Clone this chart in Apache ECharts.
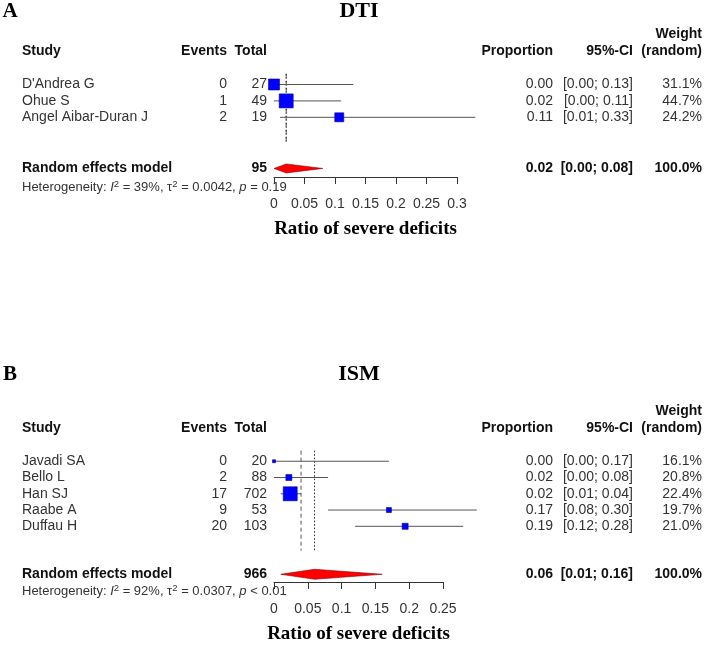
<!DOCTYPE html>
<html>
<head>
  <meta charset="UTF-8">
  <title>Forest plots</title>
  <script src="https://cdn.jsdelivr.net/npm/echarts@6/dist/echarts.min.js"></script>
  <style>
    html, body { margin: 0; padding: 0; background: #fff; }
    #main { width: 708px; height: 645px; }
  </style>
</head>
<body>
<div id="main"></div>
<script type="text/javascript">
  // ---- panel A: DTI ----
  var dtiStudies = ["D'Andrea G", 'Ohue S', 'Angel Aibar-Duran J'];
  var dtiEvents = [0, 1, 2];
  var dtiTotal = [27, 49, 19];
  var dtiProp = [0.00, 0.02, 0.107];
  var dtiLower = [0.00, 0.00, 0.01];
  var dtiUpper = [0.13, 0.11, 0.33];
  var dtiWeight = [31.1, 44.7, 24.2];
  var dtiPooled = [0.02, 0.00, 0.08];   // estimate, lower, upper
  var dtiCommon = 0.02;
  var dtiSum = 95;
  var dtiHet = ['39%', '0.0042', '= 0.19'];
  var dtiTicks = [0, 0.3, 0.05];        // min, max, step

  // ---- panel B: ISM ----
  var ismStudies = ['Javadi SA', 'Bello L', 'Han SJ', 'Raabe A', 'Duffau H'];
  var ismEvents = [0, 2, 17, 9, 20];
  var ismTotal = [20, 88, 702, 53, 103];
  var ismProp = [0.00, 0.022, 0.024, 0.17, 0.194];
  var ismLower = [0.00, 0.00, 0.01, 0.08, 0.12];
  var ismUpper = [0.17, 0.08, 0.04, 0.30, 0.28];
  var ismWeight = [16.1, 20.8, 22.4, 19.7, 21.0];
  var ismPooled = [0.06, 0.01, 0.16];
  var ismCommon = 0.04;
  var ismSum = 966;
  var ismHet = ['92%', '0.0307', '< 0.01'];
  var ismTicks = [0, 0.25, 0.05];

  var SANS = 'Liberation Sans, Arial, sans-serif';
  var SERIF = 'Liberation Serif, Times New Roman, serif';
  var TXT = '#333';

  // column anchors (pixels)
  var col = { study: 22, events: 227, total: 267, prop: 553, ci: 633, weight: 702 };

  var panels = [
    {
      letter: 'A', title: 'DTI', titleY: 11,
      studies: dtiStudies, events: dtiEvents, total: dtiTotal, prop: dtiProp,
      lower: dtiLower, upper: dtiUpper, weight: dtiWeight, pooled: dtiPooled,
      common: dtiCommon, sum: dtiSum, het: dtiHet, ticks: dtiTicks,
      box: [11, 14, 9], axisRight: 457,
      row0: 84.5, rowH: 16.4, axisY: 177, sumRow: 5.12, hetRow: 6.3, diamondH: 9
    },
    {
      letter: 'B', title: 'ISM', titleY: 374,
      studies: ismStudies, events: ismEvents, total: ismTotal, prop: ismProp,
      lower: ismLower, upper: ismUpper, weight: ismWeight, pooled: ismPooled,
      common: ismCommon, sum: ismSum, het: ismHet, ticks: ismTicks,
      box: [3, 6, 14, 5, 6], axisRight: 443,
      row0: 463, rowH: 16.7, axisY: 587, sumRow: 6.95, hetRow: 7.98, diamondH: 10
    }
  ];

  function txt(x, y, s, align, bold, size) {
    return {
      type: 'text', x: x, y: y,
      style: {
        text: s, align: align, verticalAlign: 'middle',
        fontFamily: SANS, fontSize: size || 14,
        fontWeight: bold ? 'bold' : 'normal',
        fill: bold ? '#111' : TXT
      }
    };
  }

  var grids = [], xAxes = [], yAxes = [], series = [], graphics = [];

  panels.forEach(function (p, k) {
    var yMin = -4;
    var top = p.row0 + yMin * p.rowH;
    var yMax = (p.axisY - p.row0) / p.rowH;
    var n = p.studies.length;

    grids.push({ left: 274, top: top, width: p.axisRight - 274, height: p.axisY - top, containLabel: false });
    xAxes.push({
      gridIndex: k, type: 'value', min: p.ticks[0], max: p.ticks[1], interval: p.ticks[2],
      axisLine: { onZero: false, lineStyle: { color: '#333', width: 1 } },
      axisTick: { length: 7, lineStyle: { color: '#333' } },
      axisLabel: { color: TXT, fontSize: 14, fontFamily: SANS, margin: 20 },
      splitLine: { show: false },
      name: 'Ratio of severe deficits', nameLocation: 'middle', nameGap: 43,
      nameTextStyle: { fontFamily: SERIF, fontWeight: 'bold', fontSize: 19, color: '#000' }
    });
    yAxes.push({ gridIndex: k, type: 'value', inverse: true, min: yMin, max: yMax, show: false });

    // headers, reference lines, pooled diamond
    series.push({
      type: 'custom', xAxisIndex: k, yAxisIndex: k, clip: false, silent: true,
      data: [[p.pooled[0], p.sumRow, p.pooled[1], p.pooled[2], p.common]],
      renderItem: function (params, api) {
        var yOf = function (r) { return api.coord([0, r])[1]; };
        var est = api.coord([api.value(0), api.value(1)]);
        var lo = api.coord([api.value(2), api.value(1)]);
        var hi = api.coord([api.value(3), api.value(1)]);
        var cm = api.coord([api.value(4), 0]);
        var y1 = yOf(-0.65), y2 = yOf(n + 0.5), ys = est[1], h = p.diamondH / 2;
        var hetText = '{n|Heterogeneity: }{i|I}{s|2}{n| = ' + p.het[0] + ', \u03c4}{s|2}{n| = ' +
          p.het[1] + ', }{i|p}{n| ' + p.het[2] + '}';
        return {
          type: 'group', children: [
            txt(col.study, yOf(-2.05), 'Study', 'left', true),
            txt(col.events, yOf(-2.05), 'Events', 'right', true),
            txt(col.total, yOf(-2.05), 'Total', 'right', true),
            txt(col.prop, yOf(-2.05), 'Proportion', 'right', true),
            txt(col.ci, yOf(-2.05), '95%-CI', 'right', true),
            txt(col.weight, yOf(-2.05), '(random)', 'right', true),
            txt(col.weight, yOf(-3.1), 'Weight', 'right', true),
            { type: 'line', shape: { x1: cm[0], y1: y1, x2: cm[0], y2: y2 },
              style: { stroke: '#555', lineWidth: 1, lineDash: [4, 3] } },
            { type: 'line', shape: { x1: est[0], y1: y1, x2: est[0], y2: y2 },
              style: { stroke: '#222', lineWidth: 1, lineDash: [1.5, 2] } },
            { type: 'polygon',
              shape: { points: [[lo[0], ys], [est[0], ys - h], [hi[0], ys], [est[0], ys + h]] },
              style: { fill: '#ff0000', stroke: '#8b0000', lineWidth: 0.6 } },
            txt(col.study, ys, 'Random effects model', 'left', true),
            txt(col.total, ys, String(p.sum), 'right', true),
            txt(col.prop, ys, p.pooled[0].toFixed(2), 'right', true),
            txt(col.ci, ys, '[' + p.pooled[1].toFixed(2) + '; ' + p.pooled[2].toFixed(2) + ']', 'right', true),
            txt(col.weight, ys, '100.0%', 'right', true),
            {
              type: 'text', x: col.study, y: yOf(p.hetRow),
              style: {
                text: hetText, align: 'left', verticalAlign: 'middle',
                rich: {
                  n: { fontFamily: SANS, fontSize: 13, fill: TXT, lineHeight: 16 },
                  i: { fontFamily: SANS, fontSize: 13, fontStyle: 'italic', fill: TXT, lineHeight: 16 },
                  s: { fontFamily: SANS, fontSize: 9.5, fill: TXT, lineHeight: 16, verticalAlign: 'top' }
                }
              }
            }
          ]
        };
      }
    });

    // study rows
    series.push({
      type: 'custom', xAxisIndex: k, yAxisIndex: k, clip: false, silent: true,
      data: p.studies.map(function (s, i) { return [p.prop[i], i, p.lower[i], p.upper[i]]; }),
      renderItem: function (params, api) {
        var i = params.dataIndex;
        var c = api.coord([api.value(0), api.value(1)]);
        var lo = api.coord([api.value(2), api.value(1)]);
        var hi = api.coord([api.value(3), api.value(1)]);
        var y = c[1], s = p.box[i];
        return {
          type: 'group', children: [
            { type: 'line', shape: { x1: lo[0], y1: y, x2: hi[0], y2: y },
              style: { stroke: '#555', lineWidth: 1 } },
            { type: 'rect', shape: { x: c[0] - s / 2, y: y - s / 2, width: s, height: s },
              style: { fill: '#0000ff', stroke: '#0000a0', lineWidth: 0.6 } },
            txt(col.study, y, p.studies[i], 'left'),
            txt(col.events, y, String(p.events[i]), 'right'),
            txt(col.total, y, String(p.total[i]), 'right'),
            txt(col.prop, y, p.prop[i].toFixed(2), 'right'),
            txt(col.ci, y, '[' + p.lower[i].toFixed(2) + '; ' + p.upper[i].toFixed(2) + ']', 'right'),
            txt(col.weight, y, p.weight[i].toFixed(1) + '%', 'right')
          ]
        };
      }
    });

    graphics.push(
      { type: 'text', x: 10, y: p.titleY + 1, style: { text: p.letter, align: 'center', verticalAlign: 'middle',
        fontFamily: SERIF, fontWeight: 'bold', fontSize: 21, fill: '#000' } },
      { type: 'text', x: 359, y: p.titleY, style: { text: p.title, align: 'center', verticalAlign: 'middle',
        fontFamily: SERIF, fontWeight: 'bold', fontSize: 22, fill: '#000' } }
    );
  });

  var myChart = echarts.init(document.getElementById('main'));
  myChart.setOption({
    animation: false,
    backgroundColor: '#fff',
    grid: grids,
    xAxis: xAxes,
    yAxis: yAxes,
    series: series,
    graphic: graphics
  });
</script>
</body>
</html>
